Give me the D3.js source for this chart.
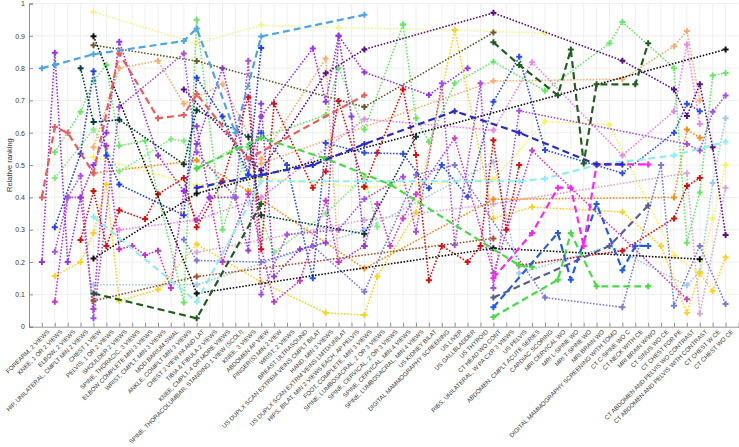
<!DOCTYPE html>
<html>
<head>
<meta charset="utf-8">
<script src="https://cdn.jsdelivr.net/npm/d3@7"></script>
<style>
  body { margin: 0; background: #fff; }
  svg { display: block; font-family: Arial, "Liberation Sans", sans-serif; }
</style>
</head>
<body>
<div id="chart"></div>
<script>
// categories along x (exam types)
const categories = [
  'FOREARM, 2 VIEWS', 'KNEE, 1 OR 2 VIEWS', 'ELBOW, 2 VIEWS', 'HIP, UNILATERAL, CMPLT MIN 2 VIEWS',
  'CHEST 1 VIEW', 'PELVIS, 1 OR 2 VIEWS', 'SHOULDER 2 VIEWS', 'SPINE, THORACIC, 3 VIEWS',
  'ELBOW COMPLETE MIN 3 VIEWS', 'WRIST, CMPLT, MIN 3 VIEWS', 'MOD BARIUM SWAL', 'ANKLE, COMPLT MIN 3 VIEWS',
  'CHEST 2 VIEW PA AND LAT', 'TIBIA & FIBULA 2 VIEWS', 'KNEE, CMPLT, 4 OR MORE VIEWS',
  'SPINE, THORACOLUMBAR, STANDING 1 VIEW (SCOLI)', 'KNEE, 3 VIEWS', 'ABDOMEN AP VIEW',
  'FINGER(S) MIN 2 VIEW', 'WRIST, 2 VIEWS', 'BREAST ULTRASOUND', 'US DUPLX SCAN EXTREM VEINS CMPLT BILAT',
  'HAND, MIN 3 VIEWS', 'US DUPLX SCAN EXTRM VEINS LMTD/UNILAT', 'HIPS, BILAT, MIN 2 VIEWS EACH, AP PELVIS',
  'FOOT, COMPLETE, MIN 3 VIEWS', 'SPINE, LUMBOSACRAL, 2 OR 3 VIEWS', 'SPINE, CERVICAL, 2 OR 3 VIEWS',
  'SPINE, CERVICAL, MIN 4 VIEWS', 'SPINE, LUMBOSACRAL, MIN 4 VIEWS', 'US KIDNEY BILAT',
  'DIGITAL MAMMOGRAPHY SCREENING', 'US LIVER', 'US GALLBLADDER', 'US THYROID', 'CT HEAD WO CONT',
  'RIBS, UNILATERAL, W PA CXR 3 VIEWS', 'US PELVIS', 'ABDOMEN, CMPLT ACUTE SERIES', 'CARDIAC SCORING',
  'MRI CERVICAL WO', 'MRI L-SPINE WO', 'MRI T-SPINE WO', 'MRI BRAIN WO',
  'DIGITAL MAMMOGRAPHY SCREENING WITH TOMO', 'CT C-SPINE WO C', 'CT NECK WITH CE', 'MRI BRAIN W/WO',
  'CT SINUS WO CE', 'CT CHEST FOR PE', 'CT ABDOMEN AND PELVIS WO CONTRAST',
  'CT ABDOMEN AND PELVIS WITH CONTRAST', 'CT CHEST W CE', 'CT CHEST WO CE'
];
const yTicks = [0, 0.1, 0.2, 0.3, 0.4, 0.5, 0.6, 0.7, 0.8, 0.9, 1];

// series: [category number (1-based), relative ranking]
const lightBlueDash = [[1,.80],[2,.81],[5,.843],[12,.884],[13,.923],[16,.60],[18,.898],[26,.965]];
const paleYellow = [[5,.974],[13,.876],[18,.933],[24,.925],[33,.918],[40,.908]];
const black1 = [[5,.211],[13,.412],[54,.858]];
const black2 = [[5,.899],[13,.103],[36,.243],[52,.209]];
const darkTeal = [[4,.80],[5,.633],[7,.64],[12,.503],[13,.67],[17,.588],[18,.345],[26,.287],[30,.588]];
const olive = [[5,.871],[13,.822],[26,.68],[36,.91]];
const darkPurple = [[12,.734],[18,.483],[23,.784],[26,.858],[36,.971],[46,.823],[50,.734],[51,.652],[52,.75],[53,.555],[54,.284]];
const navyDash = [[13,.43],[18,.47],[22,.50],[26,.565],[33,.667],[38,.60],[44,.502],[46,.502]];
const darkGreenDashA = [[5,.103],[13,.026],[18,.38]];
const darkGreenDashB = [[36,.88],[38,.81],[41,.716],[42,.858],[43,.505],[44,.75],[47,.75],[48,.877]];
const greenDashA = [[13,.49],[18,.585],[23,.52],[28,.44],[38,.19],[39,.185]];
const greenDashB = [[36,.03],[41,.145],[42,.29],[44,.125],[48,.125]];
const magentaDash = [[36,.15],[39,.29],[41,.43],[42,.43],[43,.25],[44,.502],[48,.502]];
const blueDash = [[36,.06],[41,.29],[42,.145],[44,.38],[46,.175],[47,.25],[48,.25]];
const slateDash = [[36,.09],[45,.25],[48,.375]];
const cyanDash = [[5,.34],[13,.077],[18,.45],[26,.45],[38,.45],[40,.458],[44,.50],[50,.53],[54,.572]];
const salmonDash = [[1,.40],[2,.618],[3,.60],[5,.475],[7,.846],[10,.645],[12,.655],[13,.72],[17,.52],[26,.716]];
const purpleA = [[1,.20],[2,.848],[3,.20],[4,.40],[5,.50],[6,.60],[7,.882],[10,.53],[12,.42],[13,.565],[15,.80],[17,.47],[18,.65],[22,.861],[23,.696],[24,.90],[26,.787],[31,.717],[34,.80]];
const purpleB = [[2,.232],[3,.40],[4,.467],[5,.026],[7,.68],[12,.845],[13,.54],[16,.40],[17,.823],[18,.10],[20,.285],[24,.30],[26,.395],[29,.464],[30,.294],[32,.753],[33,.253],[35,.753],[36,.12],[38,.668],[51,.565],[52,.545],[53,.665],[54,.715]];
const purpleC = [[13,.62],[14,.40],[16,.40],[17,.236],[18,.69],[19,.155],[21,.24],[23,.26],[24,.90],[25,.65],[26,.25]];
const magentaA = [[2,.077],[3,.40],[4,.40],[5,.055],[6,.56],[7,.24],[8,.25],[9,.222],[10,.235],[11,.12],[12,.42],[13,.33],[14,.40],[15,.20],[17,.41],[19,.077],[21,.142],[23,.39],[24,.20],[26,.25]];
const magentaB = [[26,.25],[27,.38],[28,.25],[29,.335],[30,.41],[33,.583],[36,.166],[39,.545],[51,.085]];
const blueA = [[2,.308],[4,.535],[5,.79],[6,.53],[7,.44],[12,.345],[13,.77],[15,.65],[17,.47],[18,.862]];
const blueB = [[18,.60],[20,.50],[22,.15],[23,.568],[26,.538],[29,.535],[31,.428],[32,.50],[34,.402],[36,.696],[38,.835],[40,.547],[46,.475],[50,.60],[51,.69],[52,.667]];
const redA = [[4,.268],[5,.42],[6,.25],[7,.36],[9,.333],[10,.41],[12,.46],[13,.308],[15,.45],[17,.71],[18,.24],[19,.69],[22,.43],[23,.48],[24,.698],[26,.433]];
const redB = [[26,.433],[27,.538],[29,.734],[30,.531],[31,.144],[32,.25],[34,.20],[35,.25],[36,.577],[37,.30],[38,.50]];
const redC = [[38,.19],[46,.235],[50,.335],[51,.435],[52,.46]];
const greenA = [[2,.54],[4,.665],[5,.76],[6,.81],[7,.56],[9,.575],[12,.075],[13,.95],[15,.30],[17,.555],[18,.585],[23,.655],[24,.80],[26,.61],[29,.935]];
const greenB = [[29,.935],[30,.645],[31,.572],[33,.753],[36,.82],[40,.73],[45,.877],[46,.943],[50,.80],[51,.26],[52,.415],[53,.777],[54,.785]];
const greenC = [[2,.46],[5,.61],[7,.48],[11,.58],[12,.575],[13,.488],[16,.555],[19,.23],[23,.35],[26,.464],[27,.31]];
const lightOrangeA = [[5,.555],[7,.80],[10,.823],[12,.69],[15,.75],[18,.52],[23,.83],[24,.20]];
const lightOrangeB = [[18,.505],[36,.76],[46,.766],[50,.868],[51,.915],[52,.70]];
const orange = [[5,.475],[13,.515],[17,.42],[26,.18],[36,.394],[50,.40],[51,.61],[52,.585]];
const brown = [[5,.08],[13,.155],[36,.273]];
const gold = [[2,.157],[4,.20],[5,.29],[6,.44],[7,.08],[10,.115],[13,.255],[18,.138],[23,.043],[26,.036],[27,.155],[30,.353],[33,.918],[36,.335],[39,.37],[46,.355],[49,.25],[51,.043],[52,.165],[53,.11],[54,.215]];
const yellow = [[5,.525],[13,.437],[18,.46],[26,.43],[36,.456],[40,.635],[45,.625],[50,.22],[52,.165],[53,.335],[54,.50]];
const pink = [[7,.30],[13,.33],[18,.40],[26,.642],[36,.608],[39,.818],[46,.53],[50,.667],[51,.873],[52,.627]];
const thistle = [[13,.23],[26,.33],[36,.38],[51,.475],[52,.04],[54,.43]];
const lightBlueDot = [[5,.13],[13,.13],[26,.30],[36,.51],[38,.165],[45,.25],[51,.128],[52,.17],[53,.445],[54,.645]];
const periwinkle = [[12,.27],[13,.205],[18,.20],[22,.25],[26,.108],[30,.47],[33,.50],[40,.09],[46,.06],[49,.50],[50,.065],[52,.25],[54,.07]];

// draw order, colour and line style per series
const series = [
  { data: thistle, color: '#d9a6cf', dash: false },
  { data: lightBlueDot, color: '#9dcbf3', dash: false },
  { data: paleYellow, color: '#f3f38e', dash: false },
  { data: yellow, color: '#f6f35c', dash: false },
  { data: gold, color: '#ffd21c', dash: false },
  { data: lightOrangeA, color: '#ffad6b', dash: false },
  { data: lightOrangeB, color: '#ffad6b', dash: false },
  { data: orange, color: '#ff8a14', dash: false },
  { data: pink, color: '#ee84ee', dash: false },
  { data: greenC, color: '#7cf07c', dash: false },
  { data: greenA, color: '#66ea66', dash: false },
  { data: greenB, color: '#66ea66', dash: false },
  { data: periwinkle, color: '#7b7bdd', dash: false },
  { data: magentaA, color: '#cc33cc', dash: false },
  { data: magentaB, color: '#d03fd0', dash: false },
  { data: purpleC, color: '#8f3ce0', dash: false },
  { data: purpleB, color: '#a550e8', dash: false },
  { data: purpleA, color: '#9a32f0', dash: false },
  { data: redA, color: '#e00b0b', dash: false },
  { data: redB, color: '#e00b0b', dash: false },
  { data: redC, color: '#e00b0b', dash: false },
  { data: blueA, color: '#1f3ff0', dash: false },
  { data: blueB, color: '#2b4fee', dash: false },
  { data: brown, color: '#a0522d', dash: false },
  { data: darkTeal, color: '#0b3b3b', dash: false },
  { data: olive, color: '#6b5b2b', dash: false },
  { data: darkPurple, color: '#5b0e8e', dash: false },
  { data: black1, color: '#111111', dash: false },
  { data: black2, color: '#111111', dash: false },
  { data: cyanDash, color: '#8eefef', dash: true },
  { data: salmonDash, color: '#ee5b5b', dash: true },
  { data: greenDashA, color: '#44dd44', dash: true },
  { data: greenDashB, color: '#44dd44', dash: true },
  { data: slateDash, color: '#5d5d90', dash: true },
  { data: blueDash, color: '#2459ee', dash: true },
  { data: magentaDash, color: '#ff22ff', dash: true },
  { data: navyDash, color: '#2a2acc', dash: true },
  { data: darkGreenDashA, color: '#1f5e1f', dash: true },
  { data: darkGreenDashB, color: '#1f5e1f', dash: true },
  { data: lightBlueDash, color: '#4ea5e6', dash: true }
];

const width = 739, height = 447;
const svg = d3.select('#chart').append('svg')
  .attr('width', width)
  .attr('height', height);

const x = d3.scaleLinear().domain([0, 55]).range([29, 738.5]);
const y = d3.scaleLinear().domain([0, 1]).range([326.7, 3.5]);

// grid
const grid = svg.append('g');
grid.selectAll('line.v')
  .data(d3.range(1, categories.length + 1))
  .join('line')
  .attr('x1', d => x(d)).attr('x2', d => x(d))
  .attr('y1', y(0)).attr('y2', y(1))
  .attr('stroke', '#e4e4e4').attr('stroke-width', 0.6);
grid.selectAll('line.h')
  .data(yTicks.slice(1))
  .join('line')
  .attr('x1', x(0)).attr('x2', x(55))
  .attr('y1', d => y(d)).attr('y2', d => y(d))
  .attr('stroke', '#e4e4e4').attr('stroke-width', 0.6);

// axes
const yAxis = svg.append('g')
  .attr('transform', `translate(${x(0)},0)`)
  .call(d3.axisLeft(y).tickValues(yTicks).tickSize(-4).tickPadding(4)
    .tickFormat(d => d === 0 ? '0' : d === 1 ? '1' : d3.format('.1f')(d)));

const xAxis = svg.append('g')
  .attr('transform', `translate(0,${y(0)})`)
  .call(d3.axisBottom(x).tickValues(d3.range(1, categories.length + 1)).tickSize(-4)
    .tickFormat(d => categories[d - 1]));

[yAxis, xAxis].forEach(a => {
  a.select('.domain').attr('stroke', '#7a7a7a').attr('stroke-width', 0.8);
  a.selectAll('.tick line').attr('stroke', '#7a7a7a').attr('stroke-width', 0.8);
  a.selectAll('text').attr('fill', '#3a3a3a');
});
yAxis.selectAll('text').style('font-size', '7px');
xAxis.selectAll('text')
  .style('font-size', '6.1px')
  .attr('text-anchor', 'end')
  .attr('x', 0).attr('y', 0).attr('dy', '0.35em')
  .attr('transform', 'translate(6,4) rotate(-45)');

svg.append('text')
  .attr('transform', `translate(12,${(y(0) + y(1)) / 2}) rotate(-90)`)
  .attr('text-anchor', 'middle')
  .attr('fill', '#333')
  .style('font-size', '7.5px')
  .text('Relative ranking');

// lines and markers
const line = d3.line().x(d => x(d[0])).y(d => y(d[1]));
const marker = d3.symbol(d3.symbolCross, 20);

series.forEach(s => {
  svg.append('path')
    .datum(s.data)
    .attr('fill', 'none')
    .attr('stroke', s.color)
    .attr('stroke-width', s.dash ? 2.2 : 1.6)
    .attr('stroke-dasharray', s.dash ? '7,4' : '1.6,1.6')
    .attr('d', line);
  svg.append('g')
    .selectAll('path')
    .data(s.data)
    .join('path')
    .attr('transform', d => `translate(${x(d[0])},${y(d[1])})`)
    .attr('d', marker)
    .attr('fill', s.color);
});
</script>
</body>
</html>
